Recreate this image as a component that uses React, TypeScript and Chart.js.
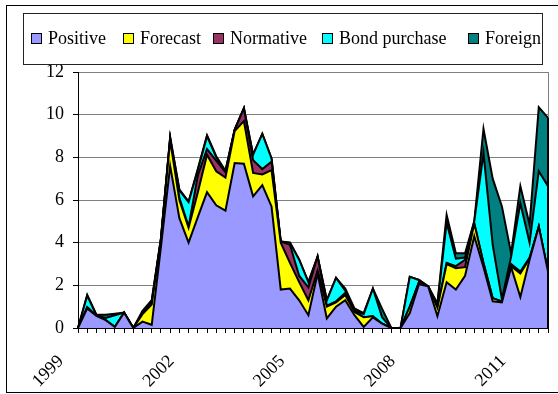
import React, { useEffect, useRef } from 'react';
import { Chart, registerables } from 'chart.js';

Chart.register(...registerables);

// Quarterly observations, 1999 Q1 through 2011 Q4
const years = ['1999', '2000', '2001', '2002', '2003', '2004', '2005', '2006', '2007', '2008', '2009', '2010', '2011'];
const quarterNames = ['Q1', 'Q2', 'Q3', 'Q4'];
const categories: string[] = [];
for (const y of years) for (const q of quarterNames) categories.push(`${y} ${q}`);

// Years shown on the category axis
const yearTicks = ['1999', '2002', '2005', '2008', '2011'];

const positive = [
  0, 0.92, 0.57, 0.37, 0.05, 0.72, 0, 0.3, 0.15, 3.8,
  7.6, 5.15, 4.0, 5.2, 6.37, 5.75, 5.5, 7.73, 7.7, 6.17,
  6.7, 5.7, 1.8, 1.85, 1.3, 0.6, 2.55, 0.45, 1.0, 1.3,
  0.6, 0.05, 0.5, 0.2, 0, 0, 0.7, 2.05, 1.95, 0.55,
  2.15, 1.8, 2.45, 4.3, 2.85, 1.25, 1.2, 2.85, 1.45, 3.2,
  4.75, 2.65,
];
const forecast = [
  0, 0.05, 0, 0, 0, 0, 0, 0.35, 0.95, 0.3,
  1.2, 0.85, 0.7, 1.15, 1.75, 1.6, 1.55, 1.5, 2.0, 1.1,
  0.5, 1.7, 2.2, 1.2, 0.85, 0.7, 0.15, 0.55, 0.2, 0.25,
  0.15, 0.45, 0.05, 0, 0, 0, 0.3, 0.1, 0, 0.4,
  0.85, 1.0, 0.4, 0.6, 0.2, 0.15, 0.05, 0.05, 1.1, 0.05,
  0, 0,
];
const normative = [
  0, 0, 0, 0, 0, 0, 0, 0, 0.05, 0.05,
  0.1, 0.1, 0.05, 0.8, 0.27, 0.5, 0.25, 0.05, 0.6, 0.6,
  0.25, 0.4, 0.05, 0.85, 0.3, 0.6, 0.65, 0.05, 0.05, 0.1,
  0.05, 0, 0, 0, 0, 0, 0, 0, 0, 0,
  0.05, 0.1, 0.35, 0, 0, 0, 0, 0.1, 0.1, 0.05,
  0, 0,
];
const bondPurchase = [
  0, 0.55, 0.02, 0.1, 0.55, 0, 0, 0.05, 0.1, 0.05,
  0, 0.35, 1.15, 0.25, 0.6, 0.15, 0.05, 0.02, 0, 0.25,
  1.65, 0.15, 0, 0.1, 0.75, 0.25, 0, 0.25, 1.1, 0.1,
  0.02, 0.15, 1.3, 0.3, 0, 0, 1.4, 0.1, 0, 0.15,
  1.9, 0.35, 0.1, 0.1, 5.15, 2.5, 0.1, 0.35, 3.2, 0.7,
  2.6, 4.0,
];
const foreign = [
  0, 0.03, 0.03, 0.15, 0.07, 0, 0, 0.1, 0.05, 0,
  0.05, 0.05, 0.03, 0.05, 0.05, 0.05, 0.02, 0, 0, 0,
  0, 0, 0, 0, 0, 0, 0, 0, 0, 0.1,
  0.1, 0.05, 0, 0.4, 0, 0, 0, 0, 0, 0.05,
  0.35, 0.25, 0.2, 0, 1.13, 3.1, 4.35, 0.15, 0.8, 0.85,
  3.0, 3.2,
];

const seriesNames = ['Positive', 'Forecast', 'Normative', 'Bond purchase', 'Foreign'];
const seriesValues = [positive, forecast, normative, bondPurchase, foreign];
const seriesColors = ['#9999FF', '#FFFF00', '#993366', '#00FFFF', '#008080'];

const FONT = "'Liberation Serif', 'Times New Roman', serif";

// Outer frame, boxed legend, plot border and the closing edge of the stack
const decorPlugin = {
  id: 'decor',
  beforeDraw(chart: any) {
    const { ctx, width, height } = chart;
    ctx.save();
    ctx.fillStyle = '#ffffff';
    ctx.fillRect(0, 0, width, height);
    ctx.restore();
  },
  afterDraw(chart: any) {
    const { ctx, chartArea, scales } = chart;
    ctx.save();

    // right-hand border of the plot area
    ctx.strokeStyle = '#808080';
    ctx.lineWidth = 1;
    const rx = Math.round(chartArea.right) + 0.5;
    ctx.beginPath();
    ctx.moveTo(rx, chartArea.top);
    ctx.lineTo(rx, chartArea.bottom);
    ctx.stroke();

    // vertical edge where the stacked areas end
    const last = categories.length - 1;
    const total = seriesValues.reduce((s, arr) => s + arr[last], 0);
    const lx = scales.x.getPixelForValue(last);
    ctx.strokeStyle = '#000000';
    ctx.lineWidth = 2;
    ctx.beginPath();
    ctx.moveTo(lx, scales.y.getPixelForValue(0));
    ctx.lineTo(lx, scales.y.getPixelForValue(total));
    ctx.stroke();

    // chart frame
    ctx.lineWidth = 1;
    ctx.strokeStyle = '#000000';
    ctx.strokeRect(6.5, 5.5, 600, 387);

    // legend frame
    ctx.strokeStyle = '#222222';
    ctx.strokeRect(23.5, 13.5, 519, 51);

    // legend entries
    const boxX = [31, 123, 213, 322, 468];
    ctx.font = `18px ${FONT}`;
    ctx.textBaseline = 'alphabetic';
    ctx.textAlign = 'left';
    seriesNames.forEach((name, i) => {
      const bx = boxX[i];
      ctx.fillStyle = seriesColors[i];
      ctx.fillRect(bx, 33, 10, 10);
      ctx.strokeStyle = '#000000';
      ctx.lineWidth = 1;
      ctx.strokeRect(bx + 0.5, 33.5, 10, 10);
      ctx.fillStyle = '#000000';
      ctx.fillText(name, bx + 17, 43.5);
    });

    ctx.restore();
  },
};

export default function App() {
  const canvasRef = useRef<HTMLCanvasElement | null>(null);

  useEffect(() => {
    const canvas = canvasRef.current;
    if (!canvas) return;
    let chart: Chart | null = null;
    let cancelled = false;

    const build = () => {
      if (cancelled) return;
      chart = new Chart(canvas, {
        type: 'line',
        data: {
          labels: categories,
          datasets: seriesNames.map((name, i) => ({
            label: name,
            data: seriesValues[i],
            backgroundColor: seriesColors[i],
            borderColor: '#000000',
            borderWidth: 2,
            fill: i === 0 ? 'origin' : '-1',
            pointRadius: 0,
            pointHoverRadius: 0,
            tension: 0,
          })),
        },
        options: {
          responsive: false,
          animation: false,
          events: [],
          layout: { padding: { top: 72, right: 10, left: 0, bottom: 0 } },
          plugins: {
            legend: { display: false },
            tooltip: { enabled: false },
            title: { display: false },
          },
          scales: {
            x: {
              type: 'category',
              offset: false,
              grid: {
                drawOnChartArea: false,
                drawTicks: true,
                tickLength: 5,
                tickColor: '#000000',
              },
              border: { color: '#000000', width: 1 },
              ticks: {
                autoSkip: false,
                minRotation: 45,
                maxRotation: 45,
                labelOffset: -17,
                padding: 18,
                color: '#000000',
                font: { family: FONT, size: 18 },
                callback: (_v: any, idx: number) => {
                  const y = categories[idx].slice(0, 4);
                  return idx % 4 === 0 && yearTicks.includes(y) ? y : '';
                },
              },
              afterFit: (scale: any) => {
                scale.height = 66;
                scale.paddingLeft = 0;
                scale.paddingRight = 0;
              },
            },
            y: {
              stacked: true,
              min: 0,
              max: 12,
              grid: {
                color: '#808080',
                lineWidth: 1,
                drawTicks: true,
                tickLength: 5,
                tickColor: '#000000',
              },
              border: { color: '#000000', width: 1 },
              ticks: {
                stepSize: 2,
                padding: 9,
                color: '#000000',
                font: { family: FONT, size: 18 },
              },
              afterFit: (scale: any) => {
                scale.width = 78;
                scale.paddingTop = 0;
                scale.paddingBottom = 0;
              },
            },
          },
        },
        plugins: [decorPlugin],
      });
    };

    const fonts = (document as any).fonts;
    if (fonts && fonts.load) {
      fonts.load("18px 'Liberation Serif'").then(build, build);
    } else {
      build();
    }

    return () => {
      cancelled = true;
      if (chart) chart.destroy();
    };
  }, []);

  return (
    <div style={{ position: 'absolute', left: 0, top: 0, width: 558, height: 394, background: '#ffffff' }}>
      <canvas ref={canvasRef} width={558} height={394} style={{ display: 'block' }} />
    </div>
  );
}
